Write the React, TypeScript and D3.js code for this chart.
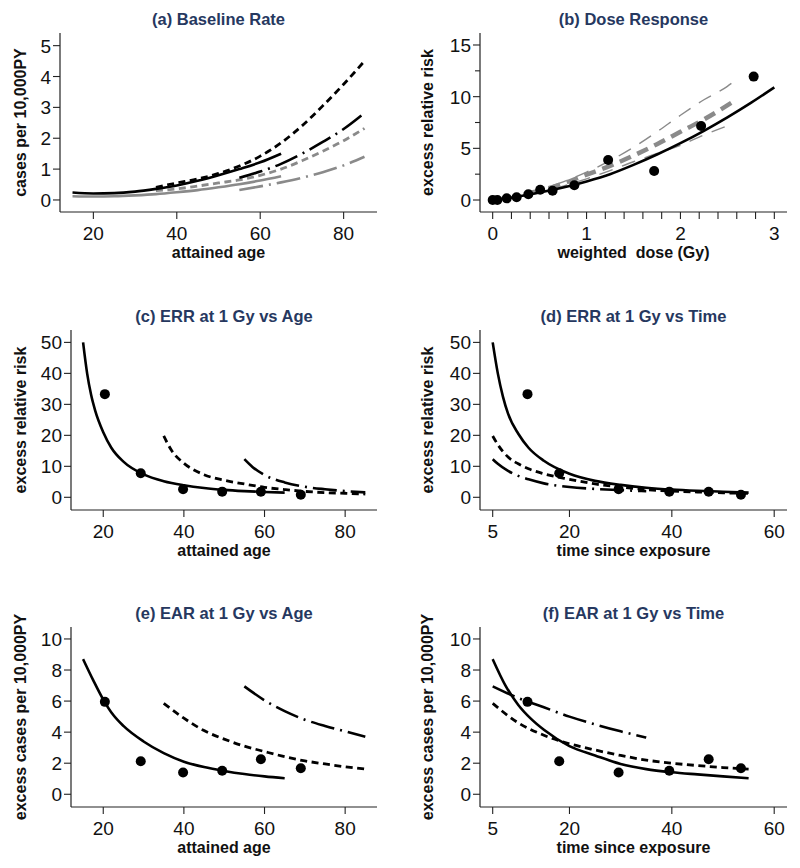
import React from "react";
import * as d3 from "d3";

type Pt = [number, number];

const FONT = 'Arial, "Liberation Sans", Helvetica, sans-serif';
const TITLE_COLOR = "#26385f";

// ---------- (a) Baseline Rate ----------
const baseBlackSolid: Pt[] = [[15, 0.24], [20, 0.21], [25, 0.22], [30, 0.27], [35, 0.36], [40, 0.47], [45, 0.62], [50, 0.8], [55, 1.0], [60, 1.22], [65, 1.5]];
const baseBlackDashed: Pt[] = [[35, 0.41], [40, 0.55], [45, 0.68], [50, 0.86], [55, 1.1], [60, 1.42], [65, 1.85], [70, 2.4], [75, 3.05], [80, 3.75], [85, 4.5]];
const baseBlackDashDot: Pt[] = [[55, 0.72], [60, 0.92], [65, 1.17], [70, 1.5], [75, 1.88], [80, 2.3], [85, 2.82]];
const baseGraySolid: Pt[] = [[15, 0.12], [20, 0.11], [25, 0.12], [30, 0.15], [35, 0.19], [40, 0.25], [45, 0.32], [50, 0.41], [55, 0.51], [60, 0.63], [65, 0.77]];
const baseGrayDashed: Pt[] = [[35, 0.3], [40, 0.36], [45, 0.45], [50, 0.55], [55, 0.65], [60, 0.8], [65, 1.0], [70, 1.27], [75, 1.58], [80, 1.92], [85, 2.32]];
const baseGrayDashDot: Pt[] = [[55, 0.32], [60, 0.44], [65, 0.57], [70, 0.72], [75, 0.9], [80, 1.12], [85, 1.4]];

// ---------- (b) Dose Response ----------
const doseObs = [0, 0.05, 0.15, 0.255, 0.38, 0.506, 0.638, 0.87, 1.23, 1.72, 2.22, 2.78];
const errDoseObs = [0, 0, 0.16, 0.26, 0.55, 1.0, 0.9, 1.42, 3.87, 2.8, 7.16, 11.94];
const doseFit: Pt[] = [[0, 0], [0.25, 0.3], [0.5, 0.72], [0.75, 1.2], [1, 1.8], [1.25, 2.5], [1.5, 3.4], [1.75, 4.4], [2, 5.5], [2.25, 6.7], [2.5, 8.0], [2.75, 9.4], [3, 10.9]];
const doseCatUpper: Pt[] = [[0.4, 0.75], [0.5, 1.0], [0.75, 1.75], [1, 2.7], [1.25, 3.8], [1.5, 5.1], [1.75, 6.6], [2, 8.2], [2.25, 9.7], [2.5, 11.0], [2.56, 11.4]];
const doseCatCenter: Pt[] = [[0.4, 0.7], [0.5, 0.9], [0.75, 1.6], [1, 2.45], [1.25, 3.3], [1.5, 4.3], [1.75, 5.4], [2, 6.6], [2.25, 7.8], [2.56, 9.5]];
const doseCatLower: Pt[] = [[0.4, 0.6], [0.5, 0.75], [0.75, 1.35], [1, 2.05], [1.25, 2.85], [1.5, 3.7], [1.75, 4.5], [2, 5.3], [2.25, 6.3], [2.55, 7.35]];

// ---------- shared observed points ----------
const ageObs = [20.4, 29.3, 39.8, 49.5, 59.1, 69.0];
const timeObs = [11.8, 18.0, 29.6, 39.5, 47.2, 53.5];
const errObs = [33.3, 7.76, 2.6, 1.83, 1.78, 0.8];
const earObs = [5.95, 2.13, 1.4, 1.51, 2.26, 1.68];

// ---------- (c) ERR vs Age ----------
const errAgeSolid: Pt[] = [[15, 50], [16, 40], [17, 33], [18, 28], [20, 21], [22, 16], [25, 11.5], [30, 7.4], [35, 5.2], [40, 3.9], [45, 3.0], [50, 2.4], [55, 2.0], [60, 1.7], [65, 1.5]];
const errAgeDashed: Pt[] = [[35, 19.8], [37, 15], [40, 11], [45, 7.3], [50, 5.5], [55, 4.3], [60, 3.2], [65, 2.5], [70, 1.9], [75, 1.5], [80, 1.3], [85, 1.05]];
const errAgeDashDot: Pt[] = [[55, 12.3], [57, 9.8], [60, 7.2], [65, 4.8], [70, 3.4], [75, 2.6], [80, 2.0], [85, 1.6]];

// ---------- (d) ERR vs Time ----------
const errTimeSolid: Pt[] = [[5, 50], [6, 40], [7, 32.5], [8, 27], [10, 20.5], [12, 16], [15, 11.8], [20, 7.6], [25, 5.3], [30, 4.0], [35, 3.1], [40, 2.5], [45, 2.1], [50, 1.8], [55, 1.5]];
const errTimeDashed: Pt[] = [[5, 19.8], [6, 17], [8, 13], [10, 10.8], [12, 9.2], [15, 7.6], [20, 5.8], [25, 4.3], [30, 3.3], [35, 2.5], [40, 2.0], [45, 1.7], [50, 1.45], [55, 1.25]];
const errTimeDashDot: Pt[] = [[5, 12.3], [6, 10.8], [8, 8.5], [10, 6.9], [12, 5.8], [15, 4.5], [20, 3.3], [25, 2.7], [30, 2.3], [35, 2.0]];

// ---------- (e) EAR vs Age ----------
const earAgeSolid: Pt[] = [[15, 8.7], [17.5, 7.35], [20, 6.1], [22.5, 5.1], [25, 4.4], [30, 3.4], [35, 2.65], [40, 2.1], [45, 1.75], [50, 1.5], [55, 1.3], [60, 1.15], [65, 1.03]];
const earAgeDashed: Pt[] = [[35, 5.85], [40, 4.9], [45, 4.1], [50, 3.55], [55, 3.1], [60, 2.75], [65, 2.42], [70, 2.15], [75, 1.95], [80, 1.77], [85, 1.62]];
const earAgeDashDot: Pt[] = [[55, 6.95], [60, 6.05], [65, 5.35], [70, 4.8], [75, 4.4], [80, 4.05], [85, 3.7]];

// ---------- (f) EAR vs Time ----------
const earTimeSolid: Pt[] = [[5, 8.7], [7.5, 7.0], [10, 5.75], [12.5, 4.85], [15, 4.15], [20, 3.1], [25, 2.5], [30, 1.95], [35, 1.62], [40, 1.42], [45, 1.28], [50, 1.15], [55, 1.03]];
const earTimeDashed: Pt[] = [[5, 5.85], [10, 4.6], [15, 3.8], [20, 3.25], [25, 2.85], [30, 2.5], [35, 2.2], [40, 2.0], [45, 1.85], [50, 1.72], [55, 1.62]];
const earTimeDashDot: Pt[] = [[5, 6.95], [10, 6.2], [15, 5.6], [20, 5.0], [25, 4.5], [30, 4.05], [35, 3.65]];

// ---------- tick values ----------
const ageTicks = [20, 40, 60, 80];
const timeTicks = [5, 20, 40, 60];
const doseTicks = [0, 1, 2, 3];
const doseMinor = [0.2, 0.4, 0.6, 0.8, 1.2, 1.4, 1.6, 1.8, 2.2, 2.4, 2.6, 2.8];
const baseTicks = [0, 1, 2, 3, 4, 5];
const errDoseTicks = [0, 5, 10, 15];
const errDoseMinor = [2.5, 7.5, 12.5];
const errTicks = [0, 10, 20, 30, 40, 50];
const earTicks = [0, 2, 4, 6, 8, 10];

// ---------- styles ----------
type Style = { color: string; width: number; dash?: string };
const BLACK = "#000";
const GRAY = "#8a8a8a";
const sSolid: Style = { color: BLACK, width: 2.6 };
const sDash: Style = { color: BLACK, width: 2.8, dash: "7,4.5" };
const sDashDot: Style = { color: BLACK, width: 2.6, dash: "24,6,2,6" };
const gSolid: Style = { color: GRAY, width: 2.6 };
const gDash: Style = { color: GRAY, width: 2.8, dash: "7,4.5" };
const gDashDot: Style = { color: GRAY, width: 2.6, dash: "24,6,2,6" };
const gThick: Style = { color: GRAY, width: 4.5, dash: "12,7" };
const gThin: Style = { color: GRAY, width: 1.4, dash: "14,10" };

interface Series { data: Pt[]; style: Style }
interface PanelDef {
  title: string;
  xLabel: string;
  yLabel: string;
  left: number; right: number; top: number; bottom: number;
  xDomain: [number, number];
  yDomain: [number, number];
  xTicks: number[];
  yTicks: number[];
  xMinor?: number[];
  yMinor?: number[];
  yLabelX: number;
  series: Series[];
  points: Pt[];
}

const zip = (a: number[], b: number[]): Pt[] => a.map((v, i) => [v, b[i]]);

const panels: PanelDef[] = [
  {
    title: "(a) Baseline Rate", xLabel: "attained age", yLabel: "cases per 10,000PY",
    left: 60, right: 377, top: 33, bottom: 212,
    xDomain: [12, 88], yDomain: [-0.39, 5.41], xTicks: ageTicks, yTicks: baseTicks, yLabelX: 26,
    series: [
      { data: baseGraySolid, style: gSolid },
      { data: baseGrayDashed, style: gDash },
      { data: baseGrayDashDot, style: gDashDot },
      { data: baseBlackSolid, style: sSolid },
      { data: baseBlackDashed, style: sDash },
      { data: baseBlackDashDot, style: sDashDot },
    ],
    points: [],
  },
  {
    title: "(b) Dose Response", xLabel: "weighted  dose (Gy)", yLabel: "excess relative risk",
    left: 480, right: 787, top: 33, bottom: 212,
    xDomain: [-0.135, 3.135], yDomain: [-1.16, 16.16], xTicks: doseTicks, yTicks: errDoseTicks,
    xMinor: doseMinor, yMinor: errDoseMinor, yLabelX: 433,
    series: [
      { data: doseCatUpper, style: gThin },
      { data: doseCatLower, style: gThin },
      { data: doseCatCenter, style: gThick },
      { data: doseFit, style: sSolid },
    ],
    points: zip(doseObs, errDoseObs),
  },
  {
    title: "(c) ERR at 1 Gy vs Age", xLabel: "attained age", yLabel: "excess relative risk",
    left: 71, right: 377, top: 330, bottom: 510,
    xDomain: [12, 87.9], yDomain: [-4.1, 54.0], xTicks: ageTicks, yTicks: errTicks, yLabelX: 26,
    series: [
      { data: errAgeSolid, style: sSolid },
      { data: errAgeDashed, style: sDash },
      { data: errAgeDashDot, style: sDashDot },
    ],
    points: zip(ageObs, errObs),
  },
  {
    title: "(d) ERR at 1 Gy vs Time", xLabel: "time since exposure", yLabel: "excess relative risk",
    left: 480, right: 787, top: 330, bottom: 510,
    xDomain: [2.52, 62.5], yDomain: [-4.1, 54.0], xTicks: timeTicks, yTicks: errTicks, yLabelX: 433,
    series: [
      { data: errTimeSolid, style: sSolid },
      { data: errTimeDashed, style: sDash },
      { data: errTimeDashDot, style: sDashDot },
    ],
    points: zip(timeObs, errObs),
  },
  {
    title: "(e) EAR at 1 Gy vs Age", xLabel: "attained age", yLabel: "excess cases per 10,000PY",
    left: 71, right: 377, top: 627, bottom: 807,
    xDomain: [12, 87.9], yDomain: [-0.82, 10.77], xTicks: ageTicks, yTicks: earTicks, yLabelX: 26,
    series: [
      { data: earAgeSolid, style: sSolid },
      { data: earAgeDashed, style: sDash },
      { data: earAgeDashDot, style: sDashDot },
    ],
    points: zip(ageObs, earObs),
  },
  {
    title: "(f) EAR at 1 Gy vs Time", xLabel: "time since exposure", yLabel: "excess cases per 10,000PY",
    left: 480, right: 787, top: 627, bottom: 807,
    xDomain: [2.52, 62.5], yDomain: [-0.82, 10.77], xTicks: timeTicks, yTicks: earTicks, yLabelX: 433,
    series: [
      { data: earTimeSolid, style: sSolid },
      { data: earTimeDashed, style: sDash },
      { data: earTimeDashDot, style: sDashDot },
    ],
    points: zip(timeObs, earObs),
  },
];

function Panel({ p }: { p: PanelDef }) {
  const x = d3.scaleLinear().domain(p.xDomain).range([p.left, p.right]);
  const y = d3.scaleLinear().domain(p.yDomain).range([p.bottom, p.top]);
  const line = d3
    .line<Pt>()
    .x((d) => x(d[0]))
    .y((d) => y(d[1]))
    .curve(d3.curveMonotoneX);
  const cx = (p.left + p.right) / 2;
  const cy = (p.top + p.bottom) / 2;
  return (
    <g>
      <text x={cx} y={p.top - 8} textAnchor="middle" fontFamily={FONT} fontWeight="bold" fontSize={16.5} fill={TITLE_COLOR}>
        {p.title}
      </text>
      {/* axes */}
      <line x1={p.left} x2={p.left} y1={p.top} y2={p.bottom} stroke="#222" strokeWidth={1.2} />
      <line x1={p.left} x2={p.right} y1={p.bottom} y2={p.bottom} stroke="#222" strokeWidth={1.2} />
      {p.xTicks.map((t) => (
        <g key={"xt" + t}>
          <line x1={x(t)} x2={x(t)} y1={p.bottom} y2={p.bottom + 7} stroke="#222" strokeWidth={1.1} />
          <text x={x(t)} y={p.bottom + 28} textAnchor="middle" fontFamily={FONT} fontSize={19} fill="#111">
            {t}
          </text>
        </g>
      ))}
      {(p.xMinor || []).map((t) => (
        <line key={"xm" + t} x1={x(t)} x2={x(t)} y1={p.bottom} y2={p.bottom + 7} stroke="#222" strokeWidth={1.1} />
      ))}
      {p.yTicks.map((t) => (
        <g key={"yt" + t}>
          <line x1={p.left - 7} x2={p.left} y1={y(t)} y2={y(t)} stroke="#222" strokeWidth={1.1} />
          <text x={p.left - 9} y={y(t) + 7} textAnchor="end" fontFamily={FONT} fontSize={19} fill="#111">
            {t}
          </text>
        </g>
      ))}
      {(p.yMinor || []).map((t) => (
        <line key={"ym" + t} x1={p.left - 5} x2={p.left} y1={y(t)} y2={y(t)} stroke="#222" strokeWidth={1.1} />
      ))}
      <text x={cx} y={p.bottom + 46} textAnchor="middle" fontFamily={FONT} fontWeight="bold" fontSize={16} fill="#111" style={{ whiteSpace: "pre" }}>
        {p.xLabel}
      </text>
      <text
        transform={`translate(${p.yLabelX},${cy}) rotate(-90)`}
        textAnchor="middle"
        fontFamily={FONT}
        fontWeight="bold"
        fontSize={16}
        fill="#111"
      >
        {p.yLabel}
      </text>
      {/* series */}
      {p.series.map((s, i) => (
        <path
          key={"s" + i}
          d={line(s.data) || ""}
          fill="none"
          stroke={s.style.color}
          strokeWidth={s.style.width}
          strokeDasharray={s.style.dash}
        />
      ))}
      {p.points.map((d, i) => (
        <circle key={"p" + i} cx={x(d[0])} cy={y(d[1])} r={5} fill="#000" />
      ))}
    </g>
  );
}

export default function App() {
  return (
    <svg
      width={800}
      height={868}
      viewBox="0 0 800 868"
      style={{ position: "absolute", left: 0, top: 0, background: "#fff" }}
    >
      <rect x={0} y={0} width={800} height={868} fill="#fff" />
      {panels.map((p, i) => (
        <Panel key={i} p={p} />
      ))}
    </svg>
  );
}
